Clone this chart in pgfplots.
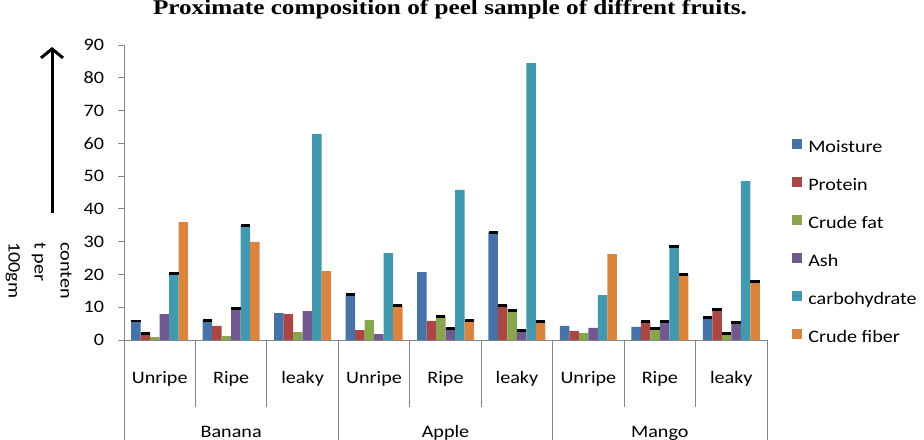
\documentclass[border=0pt]{standalone}
\usepackage{pgfplots}
\pgfplotsset{compat=1.18}
\usepackage{pgfplotstable}
\usepackage{fontspec}
\setmainfont{Carlito}[FakeStretch=1.15]
\newfontfamily\titlefont{Liberation Serif}[FakeStretch=1.2]
\usetikzlibrary{arrows.meta}
\definecolor{cMoist}{HTML}{4572A7}
\definecolor{cProt}{HTML}{AA4643}
\definecolor{cFat}{HTML}{89A54E}
\definecolor{cAsh}{HTML}{71588F}
\definecolor{cCarb}{HTML}{4198AF}
\definecolor{cFib}{HTML}{DB843D}
\definecolor{axgray}{HTML}{868686}

\pgfplotstableread{
x moist prot fat ash carb fib
0 5.8 2.0 0.9 7.9 20.3 36.0
1 6.0 4.3 1.2 9.7 35.0 29.9
2 8.2 7.9 2.4 8.8 62.8 21.0
3 13.9 3.05 6.1 1.8 26.5 10.6
4 20.7 5.8 7.2 3.6 45.8 6.0
5 32.8 10.6 9.1 2.95 84.5 5.7
6 4.3 2.75 2.1 3.7 13.7 26.2
7 4.0 5.7 3.6 5.7 28.6 20.0
8 6.9 9.3 2.0 5.4 48.5 17.9
}\data

\begin{document}
\fontsize{17.5bp}{21bp}\selectfont
\begin{tikzpicture}
\path[use as bounding box] (0,0) rectangle (924bp,440bp);
\node[anchor=base, font=\titlefont\bfseries\fontsize{21bp}{25bp}\selectfont] at (450bp,425bp) {Proximate composition of peel sample of diffrent fruits.};
\draw[line width=3bp, -{Straight Barb[length=9bp,width=22bp]}] (52bp,227bp) -- (52bp,393bp);
\node[rotate=-90, anchor=north west, align=left, inner sep=0pt, font=\fontsize{17.5bp}{26bp}\selectfont] at (72bp,198bp) {conten\\t per\\100gm};
\begin{axis}[
  at={(124bp,100bp)}, anchor=south west,
  scale only axis, width=643bp, height=295bp,
  xmin=-0.5, xmax=8.5, ymin=0, ymax=90,
  ytick={0,10,...,90},
  xtick={0,...,8},
  xticklabels={Unripe,Ripe,leaky,Unripe,Ripe,leaky,Unripe,Ripe,leaky},
  axis x line*=bottom, axis y line*=left,
  axis line style={draw=axgray, line width=0.8bp, -},
  tick align=outside,
  major tick length=6bp,
  ytick style={draw=axgray, line width=0.8bp},
  xtick style={draw=none},
  /pgf/number format/assume math mode=true,
  ticklabel style={font=\fontsize{17.5bp}{21bp}\selectfont},
  xticklabel style={anchor=base, yshift=-37bp},
  yticklabel style={xshift=-8bp},
  clip=false,
  legend style={at={(1.039,0.329)}, anchor=west, draw=none, fill=none, inner sep=0pt,
    font=\fontsize{17.5bp}{21bp}\selectfont, row sep=20.6bp, column sep=6bp,
    nodes={inner sep=0pt, text height=13bp, text depth=4bp}},
  legend cell align=left,
  legend image code/.code={\fill[#1] (0bp,-1bp) rectangle (10bp,9bp);},
]
\addplot[ybar, bar width=9.5bp, bar shift=-23.75bp, fill=cMoist, draw=none] table[x=x,y=moist]{\data};
\addplot[ybar, bar width=9.5bp, bar shift=-14.25bp, fill=cProt, draw=none] table[x=x,y=prot]{\data};
\addplot[ybar, bar width=9.5bp, bar shift=-4.75bp, fill=cFat, draw=none] table[x=x,y=fat]{\data};
\addplot[ybar, bar width=9.5bp, bar shift=4.75bp, fill=cAsh, draw=none] table[x=x,y=ash]{\data};
\addplot[ybar, bar width=9.5bp, bar shift=14.25bp, fill=cCarb, draw=none] table[x=x,y=carb]{\data};
\addplot[ybar, bar width=9.5bp, bar shift=23.75bp, fill=cFib, draw=none] table[x=x,y=fib]{\data};
\legend{Moisture,Protein,Crude fat,Ash,carbohydrate,Crude fiber}
% black caps (error bar ends)
\addplot[forget plot, only marks, mark=-, mark size=4.6bp, mark options={line width=2.7bp, draw=black, xshift=-23.75bp}] coordinates {(0,5.8)(1,6.0)(3,13.9)(5,32.8)(8,6.9)};
\addplot[forget plot, only marks, mark=-, mark size=4.6bp, mark options={line width=2.7bp, draw=black, xshift=-14.25bp}] coordinates {(0,2.0)(5,10.6)(7,5.7)(8,9.3)};
\addplot[forget plot, only marks, mark=-, mark size=4.6bp, mark options={line width=2.7bp, draw=black, xshift=-4.75bp}] coordinates {(4,7.2)(5,9.1)(7,3.6)(8,2.0)};
\addplot[forget plot, only marks, mark=-, mark size=4.6bp, mark options={line width=2.7bp, draw=black, xshift=4.75bp}] coordinates {(1,9.7)(4,3.6)(5,2.95)(7,5.7)(8,5.4)};
\addplot[forget plot, only marks, mark=-, mark size=4.6bp, mark options={line width=2.7bp, draw=black, xshift=14.25bp}] coordinates {(0,20.3)(1,35.0)(7,28.6)};
\addplot[forget plot, only marks, mark=-, mark size=4.6bp, mark options={line width=2.7bp, draw=black, xshift=23.75bp}] coordinates {(3,10.6)(4,6.0)(5,5.7)(7,20.0)(8,17.9)};
% category separators
\pgfplotsinvokeforeach{0.5,1.5,3.5,4.5,6.5,7.5}{
  \draw[axgray, line width=0.8bp] (axis cs:#1,0) -- ++(0pt,-67bp);
}
\pgfplotsinvokeforeach{-0.5,2.5,5.5,8.5}{
  \draw[axgray, line width=0.8bp] (axis cs:#1,0) -- ++(0pt,-100bp);
}
\node[anchor=base] at (axis cs:1,0) [yshift=-97bp] {Banana};
\node[anchor=base] at (axis cs:4,0) [yshift=-97bp] {Apple};
\node[anchor=base] at (axis cs:7,0) [yshift=-97bp] {Mango};
\end{axis}
\end{tikzpicture}
\end{document}
